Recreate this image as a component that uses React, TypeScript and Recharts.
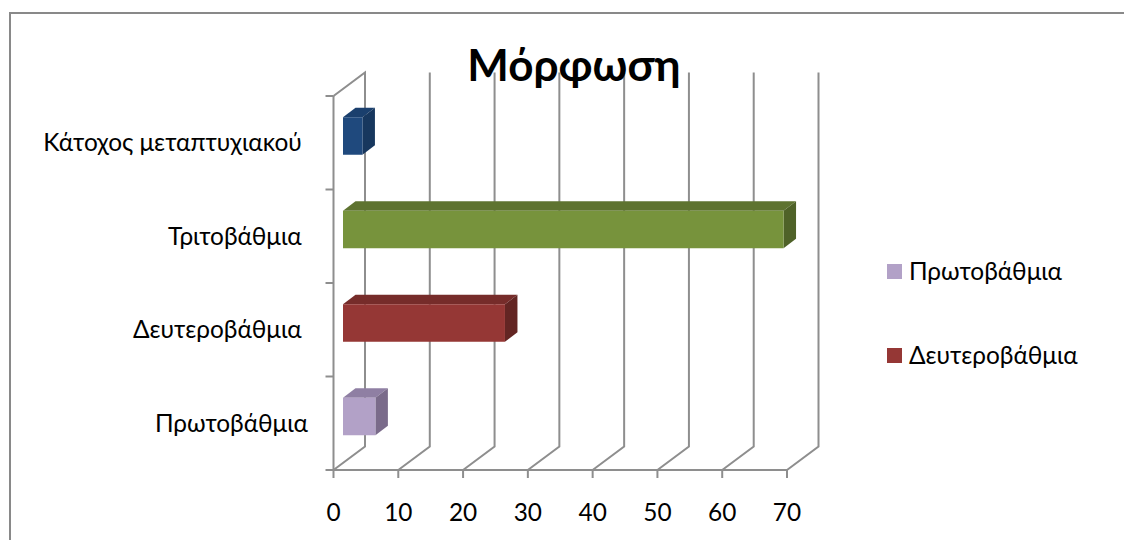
import React from 'react';
import { Bar, BarChart, Legend, ReferenceLine, XAxis, YAxis } from 'recharts';

const categories = ['Πρωτοβάθμια', 'Δευτεροβάθμια\u00a0', 'Τριτοβάθμια\u00a0', 'Κάτοχος μεταπτυχιακού\u00a0'];
const values = [5, 25, 68, 3];
const valueTicks = [0, 10, 20, 30, 40, 50, 60, 70];
const bandTicks = [0, 1, 2, 3, 4];
const legendNames = ['Πρωτοβάθμια', 'Δευτεροβάθμια'];

const frontColors = ['#B2A1C7', '#953735', '#77933C', '#1F497D'];
const topColors = ['#8F7FA3', '#762C2A', '#5E7330', '#1A3F6D'];
const sideColors = ['#7A6B8A', '#632523', '#4F6228', '#17375E'];

const data = categories.map((name, i) => ({ name, value: values[i], band: i }));

const FONT = 'Lato, "Open Sans", sans-serif';
const AXIS_COLOR = '#8E8E8E';

// fake 3D: how far the back wall sits from the front of the plot
const WALL_DX = 31.5;
const WALL_DY = 23.5;
// depth of each box, and where it sits inside the floor
const BOX_DX = 12.5;
const BOX_DY = 9.5;
const BOX_SHIFT_X = 9.5;
const BOX_SHIFT_Y = 6.75;

const Box3D = (props: any) => {
  const { x, y, width, height, index } = props;
  const left = x + BOX_SHIFT_X;
  const top = y - BOX_SHIFT_Y;
  const right = left + width;
  const bottom = top + height;
  return (
    <g>
      <polygon
        points={`${left},${top} ${left + BOX_DX},${top - BOX_DY} ${right + BOX_DX},${top - BOX_DY} ${right},${top}`}
        fill={topColors[index]}
      />
      <polygon
        points={`${right},${top} ${right + BOX_DX},${top - BOX_DY} ${right + BOX_DX},${bottom - BOX_DY} ${right},${bottom}`}
        fill={sideColors[index]}
      />
      <rect x={left} y={top} width={width} height={height} fill={frontColors[index]} />
    </g>
  );
};

// floor line plus wall line for one value; the first one also closes the top of the side wall
const WallLine = (props: any) => {
  const { x1, y1, y2, first } = props;
  const yTop = Math.min(y1, y2);
  const yBottom = Math.max(y1, y2);
  const backX = x1 + WALL_DX;
  const pts = [`${x1},${yBottom}`, `${backX},${yBottom - WALL_DY}`, `${backX},${yTop - WALL_DY}`];
  if (first) pts.push(`${x1},${yTop}`);
  return <polyline points={pts.join(' ')} fill="none" stroke={AXIS_COLOR} strokeWidth={2} />;
};

const LegendRows = () => (
  <div style={{ fontFamily: FONT, fontSize: 24.4, color: '#000' }}>
    {legendNames.map((name, i) => (
      <div key={name} style={{ display: 'flex', alignItems: 'center', height: 84, lineHeight: '84px' }}>
        <span style={{ width: 15, height: 15, background: frontColors[i], marginRight: 7, display: 'inline-block' }} />
        {name}
      </div>
    ))}
  </div>
);

export default function App() {
  return (
    <div style={{ position: 'absolute', left: 0, top: 0, width: 1124, height: 540, background: '#fff', overflow: 'hidden' }}>
      <div style={{ position: 'absolute', left: 9, top: 12, right: -4, bottom: -4, borderLeft: '2px solid #898989', borderTop: '2px solid #898989' }} />
      <BarChart
        width={1124}
        height={540}
        data={data}
        layout="vertical"
        margin={{ top: 96, right: 337, bottom: 0, left: 0 }}
        barSize={37.5}
      >
        <XAxis
          type="number"
          domain={[0, 70]}
          ticks={valueTicks}
          height={70}
          interval={0}
          tickSize={8}
          tickMargin={26}
          stroke={AXIS_COLOR}
          strokeWidth={2}
          tick={{ fill: '#000', fontFamily: FONT, fontSize: 24.4 }}
        />
        <YAxis
          yAxisId="names"
          type="category"
          dataKey="name"
          reversed
          width={332.5}
          interval={0}
          axisLine={false}
          tickLine={false}
          tickMargin={18.5}
          tick={{ fill: '#000', fontFamily: FONT, fontSize: 24.4 }}
        />
        {/* second axis only for the marks between categories, no labels */}
        <YAxis
          yAxisId="bands"
          type="number"
          dataKey="band"
          domain={[0, 4]}
          ticks={bandTicks}
          interval={0}
          width={1}
          tick={() => <g />}
          tickSize={8}
          stroke={AXIS_COLOR}
          strokeWidth={2}
        />
        {valueTicks.map((t, i) => (
          <ReferenceLine
            key={t}
            x={t}
            yAxisId="names"
            zIndex={-100}
            shape={(p: any) => <WallLine {...p} first={i === 0} />}
          />
        ))}
        <Bar dataKey="value" yAxisId="names" shape={Box3D} isAnimationActive={false} />
        <Legend
          layout="vertical"
          align="center"
          verticalAlign="middle"
          content={() => <LegendRows />}
          wrapperStyle={{ left: 887, top: 229, width: 220 }}
        />
      </BarChart>
      <div
        style={{
          position: 'absolute',
          left: 0,
          top: 30,
          width: 1148,
          textAlign: 'center',
          fontFamily: FONT,
          fontWeight: 700,
          fontSize: 44,
          lineHeight: '68px',
          color: '#000',
        }}
      >
        Μόρφωση
      </div>
    </div>
  );
}
